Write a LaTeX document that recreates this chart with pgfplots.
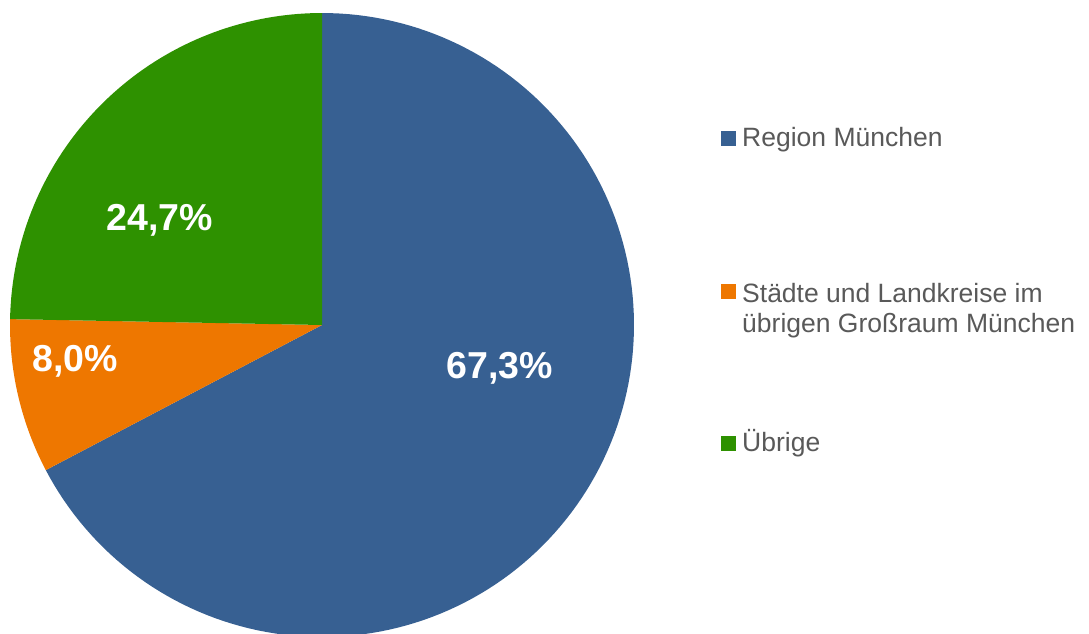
\documentclass[border=0pt]{standalone}
\usepackage{pgfplots}
\pgfplotsset{compat=1.18}
\usepackage{fontspec}
\setmainfont{Liberation Sans}
\definecolor{cBlue}{RGB}{55,96,146}
\definecolor{cOrange}{RGB}{238,119,0}
\definecolor{cGreen}{RGB}{46,145,0}
\definecolor{cText}{RGB}{89,89,89}
% shares in percent
\def\vA{67.3}\def\vB{8.0}\def\vC{24.7}
\pgfmathsetmacro{\aA}{90}
\pgfmathsetmacro{\aB}{90-3.6*\vA}
\pgfmathsetmacro{\aC}{\aB-3.6*\vB}
\pgfmathsetmacro{\aD}{\aC-3.6*\vC}
\def\cx{322}\def\cy{325}\def\rr{312}
\begin{document}
\begin{tikzpicture}
\begin{axis}[
  width=1089pt, height=633pt, scale only axis,
  xmin=0, xmax=1089, ymin=0, ymax=633, y dir=reverse,
  hide axis, clip=true,
]
\addplot[fill=cBlue, draw=none, domain=\aB:\aA, samples=150]
  ({\cx+\rr*cos(x)},{\cy-\rr*sin(x)}) -- (axis cs:\cx,\cy) -- cycle;
\addplot[fill=cOrange, draw=none, domain=\aC:\aB, samples=40]
  ({\cx+\rr*cos(x)},{\cy-\rr*sin(x)}) -- (axis cs:\cx,\cy) -- cycle;
\addplot[fill=cGreen, draw=none, domain=\aD:\aC, samples=80]
  ({\cx+\rr*cos(x)},{\cy-\rr*sin(x)}) -- (axis cs:\cx,\cy) -- cycle;
% slice labels
\node[text=white, font=\fontsize{37.5}{40}\selectfont\bfseries] at (axis cs:500,368) {67,3\%};
\node[text=white, font=\fontsize{37.5}{40}\selectfont\bfseries] at (axis cs:75,361) {8,0\%};
\node[text=white, font=\fontsize{37.5}{40}\selectfont\bfseries] at (axis cs:160,220) {24,7\%};
% legend
\addplot[only marks, mark=square*, mark size=7pt, color=cBlue, mark options={draw=none}] coordinates {(728,138)};
\addplot[only marks, mark=square*, mark size=7pt, color=cOrange, mark options={draw=none}] coordinates {(728,291)};
\addplot[only marks, mark=square*, mark size=7pt, color=cGreen, mark options={draw=none}] coordinates {(728,443)};
\node[anchor=base west, text=cText, font=\fontsize{26.5}{30}\selectfont, inner sep=0pt] at (axis cs:742,146.5) {Region München};
\node[anchor=base west, text=cText, font=\fontsize{26.5}{30}\selectfont, inner sep=0pt] at (axis cs:742,302.5) {Städte und Landkreise im};
\node[anchor=base west, text=cText, font=\fontsize{26.5}{30}\selectfont, inner sep=0pt] at (axis cs:742,332) {übrigen Großraum München};
\node[anchor=base west, text=cText, font=\fontsize{26.5}{30}\selectfont, inner sep=0pt] at (axis cs:742,451.5) {Übrige};
\end{axis}
\pgfresetboundingbox
\path[use as bounding box] (current axis.south west) rectangle (current axis.north east);
\end{tikzpicture}
\end{document}
